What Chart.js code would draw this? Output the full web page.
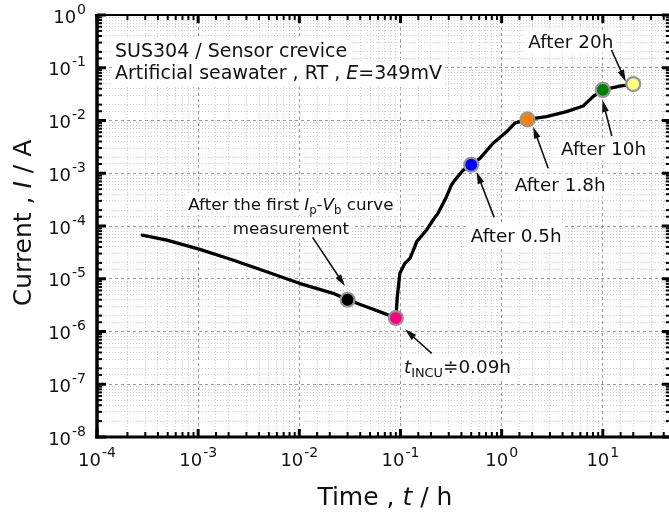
<!DOCTYPE html>
<html>
<head>
<meta charset="utf-8">
<script src="https://cdn.jsdelivr.net/npm/chart.js@4.4.1/dist/chart.umd.min.js"></script>
<style>
  html, body { margin: 0; padding: 0; background: #fff; overflow: hidden; }
  #wrap { width: 680px; height: 515px; }
</style>
</head>
<body>
<div id="wrap"><canvas id="chart" width="680" height="515"></canvas></div>
<script>
// current transient, SUS304 sensor crevice in artificial seawater
const curveTime = [2.8e-4, 4.9e-4, 1.04e-3, 2.2e-3, 4.75e-3, 1.0e-2, 2.16e-2, 0.03, 0.046, 0.065, 0.09,
  0.093, 0.0986, 0.1105, 0.124, 0.1387, 0.144, 0.181, 0.21, 0.235, 0.285, 0.319, 0.345, 0.417, 0.5,
  0.61, 0.824, 1.12, 1.35, 1.8, 2.77, 4.38, 6.4, 8.0, 10, 14.7, 20];
const curveCurrent = [6.7e-5, 5.4e-5, 3.6e-5, 2.27e-5, 1.36e-5, 8.2e-6, 5.3e-6, 4.0e-6, 2.95e-6, 2.3e-6, 1.8e-6,
  4.5e-6, 1.27e-5, 1.96e-5, 2.44e-5, 4.06e-5, 5.0e-5, 8.4e-5, 1.3e-4, 1.74e-4, 3.6e-4, 6.0e-4, 7.4e-4, 1.15e-3, 1.45e-3,
  1.92e-3, 3.7e-3, 6.1e-3, 8.9e-3, 1.05e-2, 1.18e-2, 1.47e-2, 1.88e-2, 2.83e-2, 3.8e-2, 4.5e-2, 4.9e-2];

// sampling points marked on the curve
const markerTime = [0.03, 0.09, 0.5, 1.8, 10, 20];
const markerCurrent = [4.0e-6, 1.8e-6, 1.45e-3, 1.05e-2, 3.8e-2, 4.9e-2];
const markerFill = ['#000000', '#ff0080', '#0000ff', '#ff8000', '#008000', '#ffff80'];

// decade labels
const xTickExp = [-4, -3, -2, -1, 0, 1];
const yTickExp = [-8, -7, -6, -5, -4, -3, -2, -1, 0];

const ink = '#111';
const family = "'DejaVu Sans', Verdana, sans-serif";
function font(size, italic) {
    return (italic ? 'italic ' : '') + size + 'px ' + family;
}

// text runs: {t, it: italic, sub: subscript}
function runsWidth(ctx, runs, size) {
    let w = 0;
    runs.forEach(r => {
        ctx.font = font(r.sub ? size * 0.7 : size, r.it);
        w += ctx.measureText(r.t).width;
    });
    return w;
}

function drawRuns(ctx, runs, x, y, size, align, box) {
    const w = runsWidth(ctx, runs, size);
    let cx = align === 'center' ? x - w / 2 : x;
    if (box) {
        ctx.fillStyle = '#fff';
        ctx.fillRect(cx - 3, y - size * 0.95, w + 6, size * 1.25);
    }
    ctx.fillStyle = ink;
    ctx.textAlign = 'left';
    ctx.textBaseline = 'alphabetic';
    runs.forEach(r => {
        ctx.font = font(r.sub ? size * 0.7 : size, r.it);
        ctx.fillText(r.t, cx, y + (r.sub ? size * 0.25 : 0));
        cx += ctx.measureText(r.t).width;
    });
}

function drawArrow(ctx, x1, y1, x2, y2) {
    const a = Math.atan2(y2 - y1, x2 - x1);
    const L = 12, W = 3.4;
    const c = Math.cos(a), s = Math.sin(a);
    ctx.strokeStyle = ink;
    ctx.fillStyle = ink;
    ctx.lineWidth = 1.6;
    ctx.beginPath();
    ctx.moveTo(x1, y1);
    ctx.lineTo(x2 - L * 0.8 * c, y2 - L * 0.8 * s);
    ctx.stroke();
    ctx.beginPath();
    ctx.moveTo(x2, y2);
    ctx.lineTo(x2 - L * c + W * s, y2 - L * s - W * c);
    ctx.lineTo(x2 - L * c - W * s, y2 - L * s + W * c);
    ctx.closePath();
    ctx.fill();
}

// 10 with a raised exponent
function drawPower(ctx, exp, x, y, align) {
    const e = exp < 0 ? '-' + Math.abs(exp) : String(exp);
    ctx.font = font(18);
    const wb = ctx.measureText('10').width;
    ctx.font = font(14);
    const we = ctx.measureText(e).width;
    const w = wb + we + 1;
    const left = align === 'right' ? x - w : x - w / 2;
    ctx.fillStyle = ink;
    ctx.textAlign = 'left';
    ctx.textBaseline = 'alphabetic';
    ctx.font = font(18);
    ctx.fillText('10', left, y);
    ctx.font = font(14);
    ctx.fillText(e, left + wb + 1, y - 9);
}

// labels and arrows placed relative to the marker they point at
const notes = [
    { at: 0, size: 16.7, dx: -56.7, dy: [-89.7, -65.7], tail: [-35, -62.4], tip: [-2.7, -13.7],
      lines: [[{ t: 'After the first ' }, { t: 'I', it: true }, { t: 'p', sub: true }, { t: '-' },
               { t: 'V', it: true }, { t: 'b', sub: true }, { t: ' curve' }],
              [{ t: 'measurement' }]] },
    { at: 1, size: 18.4, left: true, dx: 8.1, dy: [54.7], tail: [35.8, 35.3], tip: [9.1, 11.3],
      lines: [[{ t: 't', it: true }, { t: 'INCU', sub: true }, { t: '\u22510.09h' }]] },
    { at: 2, size: 18.4, dx: 45, dy: [77], tail: [23, 52.6], tip: [5.4, 7],
      lines: [[{ t: 'After 0.5h' }]] },
    { at: 3, size: 18.4, dx: 32.7, dy: [71.6], tail: [20.7, 48.9], tip: [5.7, 7.3],
      lines: [[{ t: 'After 1.8h' }]] },
    { at: 4, size: 18.4, dx: 0.7, dy: [65.1], tail: [9, 46.1], tip: [-0.3, 10.1],
      lines: [[{ t: 'After 10h' }]] },
    { at: 5, size: 18.4, dx: -62.5, dy: [-36.4], tail: [-21.8, -34.1], tip: [-7.5, -2.4],
      lines: [[{ t: 'After 20h' }]] }
];

function markerPixel(chart, i) {
    return [chart.scales.x.getPixelForValue(markerTime[i]), chart.scales.y.getPixelForValue(markerCurrent[i])];
}

const decorations = {
    id: 'decorations',
    beforeDatasetsDraw(chart) {
        const ctx = chart.ctx;
        ctx.save();
        // condition box
        drawRuns(ctx, [{ t: 'SUS304 / Sensor crevice' }], 115, 56.7, 19, 'left', true);
        drawRuns(ctx, [{ t: 'Artificial seawater , RT , ' }, { t: 'E', it: true }, { t: '=349mV' }], 115, 79, 19, 'left', true);
        notes.forEach(n => {
            const [mx, my] = markerPixel(chart, n.at);
            n.lines.forEach((runs, k) => {
                drawRuns(ctx, runs, mx + n.dx, my + n.dy[k], n.size, n.left ? 'left' : 'center', true);
            });
        });
        ctx.restore();
    },
    afterDatasetsDraw(chart) {
        const ctx = chart.ctx;
        ctx.save();
        notes.forEach(n => {
            const [mx, my] = markerPixel(chart, n.at);
            drawArrow(ctx, mx + n.tail[0], my + n.tail[1], mx + n.tip[0], my + n.tip[1]);
        });
        ctx.restore();
    },
    afterDraw(chart) {
        const ctx = chart.ctx;
        const { left, right, top, bottom } = chart.chartArea;
        const xs = chart.scales.x, ys = chart.scales.y;
        ctx.save();
        ctx.fillStyle = '#000';
        // inward ticks on all four sides
        xs.ticks.forEach(t => {
            const px = xs.getPixelForValue(t.value);
            if (px < left - 1 || px > right + 1) return;
            const len = t.major ? 8 : 5, w = t.major ? 3 : 2;
            ctx.fillRect(px - w / 2, bottom - len, w, len);
            ctx.fillRect(px - w / 2, top, w, len);
        });
        ys.ticks.forEach(t => {
            const py = ys.getPixelForValue(t.value);
            const len = t.major ? 9 : 5, w = t.major ? 3 : 2;
            ctx.fillRect(left, py - w / 2, len, w);
            ctx.fillRect(right - len, py - w / 2, len, w);
        });
        // frame
        ctx.fillRect(left - 1.75, top - 1, 3.5, bottom - top + 2.5);
        ctx.fillRect(left - 1.75, bottom - 1.5, right - left + 3, 3);
        ctx.fillRect(left - 1.75, top - 1, right - left + 3, 2);
        ctx.fillRect(right - 1, top - 1, 2, bottom - top + 2);

        xTickExp.forEach(e => drawPower(ctx, e, xs.getPixelForValue(Math.pow(10, e)), 466, 'center'));
        yTickExp.forEach(e => drawPower(ctx, e, 86, ys.getPixelForValue(Math.pow(10, e)) + 7.5, 'right'));

        // axis titles
        drawRuns(ctx, [{ t: 'Time , ' }, { t: 't', it: true }, { t: ' / h' }], (left + right) / 2 + 1, 505, 25, 'center');
        ctx.translate(31, (top + bottom) / 2 - 3);
        ctx.rotate(-Math.PI / 2);
        drawRuns(ctx, [{ t: 'Current , ' }, { t: 'I', it: true }, { t: ' / A' }], 0, 0, 25, 'center');
        ctx.restore();
    }
};

const ctx = document.getElementById('chart').getContext('2d');
new Chart(ctx, {
    type: 'line',
    data: {
        datasets: [{
            label: 'markers',
            data: markerTime.map((t, i) => ({ x: t, y: markerCurrent[i] })),
            showLine: false,
            pointRadius: 7,
            pointBorderWidth: 2.2,
            pointBackgroundColor: markerFill,
            pointBorderColor: '#959595'
        }, {
            label: 'current',
            data: curveTime.map((t, i) => ({ x: t, y: curveCurrent[i] })),
            borderColor: '#000',
            borderWidth: 3.3,
            pointRadius: 0,
            tension: 0,
            borderJoinStyle: 'round',
            borderCapStyle: 'round'
        }]
    },
    options: {
        responsive: false,
        animation: false,
        devicePixelRatio: 1,
        events: [],
        layout: { padding: { left: 97, top: 15, right: 9, bottom: 78 } },
        plugins: { legend: { display: false }, tooltip: { enabled: false } },
        scales: {
            x: {
                type: 'logarithmic',
                min: 1e-4,
                max: 47,
                ticks: { display: false },
                border: {
                    display: false,
                    dash: c => (c.tick && c.tick.major) ? [3, 3] : [1, 2]
                },
                grid: {
                    drawTicks: false,
                    lineWidth: 1,
                    color: c => (c.tick && c.tick.major) ? '#9a9a9a' : '#cfcfcf'
                }
            },
            y: {
                type: 'logarithmic',
                min: 1e-8,
                max: 1,
                ticks: { display: false },
                border: {
                    display: false,
                    dash: c => (c.tick && c.tick.major) ? [3, 3] : [1, 2]
                },
                grid: {
                    drawTicks: false,
                    lineWidth: 1,
                    color: c => (c.tick && c.tick.major) ? '#9a9a9a' : '#cfcfcf'
                }
            }
        }
    },
    plugins: [decorations]
});
</script>
</body>
</html>
